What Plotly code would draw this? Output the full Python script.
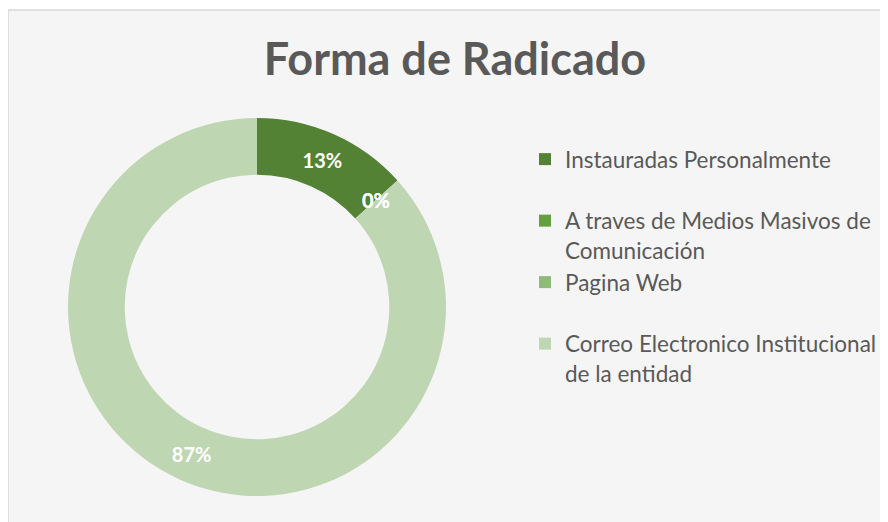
import math
import plotly.graph_objects as go

categories = [
    "Instauradas Personalmente",
    "A traves de Medios Masivos de Comunicación",
    "Pagina Web",
    "Correo Electronico Institucional de la entidad",
]
values = [2, 0, 0, 13]
colors = ["#548235", "#65a03f", "#8fbb78", "#bfd6b3"]
title = "Forma de Radicado"

# legend display labels (wrapped like the reference)
legend_labels = [
    "Instauradas Personalmente<br> ",
    "A traves de Medios Masivos de<br>Comunicación",
    "Pagina Web<br> ",
    "Correo Electronico Institucional<br>de la entidad",
]

# page body has an 8px margin: figure is drawn from (8, 8)
OFF = 8
W, H = 880, 514


def px(x):
    return (x - OFF) / W


def py(y):
    return 1 - (y - OFF) / H


total = sum(values)
pct = [f"{round(v / total * 100)}%" for v in values]

# pie geometry (reference pixels)
cx, cy, R, hole = 257, 307, 189, 0.70

fig = go.Figure()
fig.add_trace(go.Pie(
    labels=legend_labels,
    values=values,
    text=pct,
    textinfo="text",
    hole=hole,
    sort=False,
    direction="clockwise",
    rotation=0,
    marker=dict(colors=colors, line=dict(width=0)),
    textposition="inside",
    insidetextorientation="horizontal",
    textfont=dict(family="Lato", size=20, color="white", weight="bold"),
    domain=dict(x=[px(cx - R), px(cx + R)], y=[py(cy + R), py(cy - R)]),
    showlegend=True,
))

# labels for zero-value slices (Plotly does not draw empty slices)
annotations = []
cum = 0
rm = R * (1 + hole) / 2
for v, t in zip(values, pct):
    if v == 0:
        a = 2 * math.pi * cum / total
        annotations.append(dict(
            x=px(cx + rm * math.sin(a)), y=py(cy - rm * math.cos(a)),
            xref="paper", yref="paper", text=t, showarrow=False,
            font=dict(family="Lato", size=20, color="white", weight="bold"),
        ))
    cum += v

fig.update_layout(
    width=W, height=H,
    margin=dict(l=0, r=0, t=0, b=0),
    paper_bgcolor="white",
    plot_bgcolor="white",
    title=dict(text=title, x=px(455), xanchor="center", y=py(59), yanchor="middle",
               font=dict(family="Lato", size=45, color="#595959", weight="bold")),
    legend=dict(
        x=px(525), y=py(138), xanchor="left", yanchor="top",
        font=dict(family="Lato", size=22.5, color="#595959"),
        valign="top",
        bgcolor="rgba(0,0,0,0)",
        itemclick=False,
    ),
    annotations=annotations,
    shapes=[dict(type="rect", xref="paper", yref="paper",
                 x0=px(8), y0=-0.05, x1=1.05, y1=py(10),
                 line=dict(color="#d9d9d9", width=1.5), fillcolor="#f5f5f5", layer="below")],
)

fig.write_html("out.html")
